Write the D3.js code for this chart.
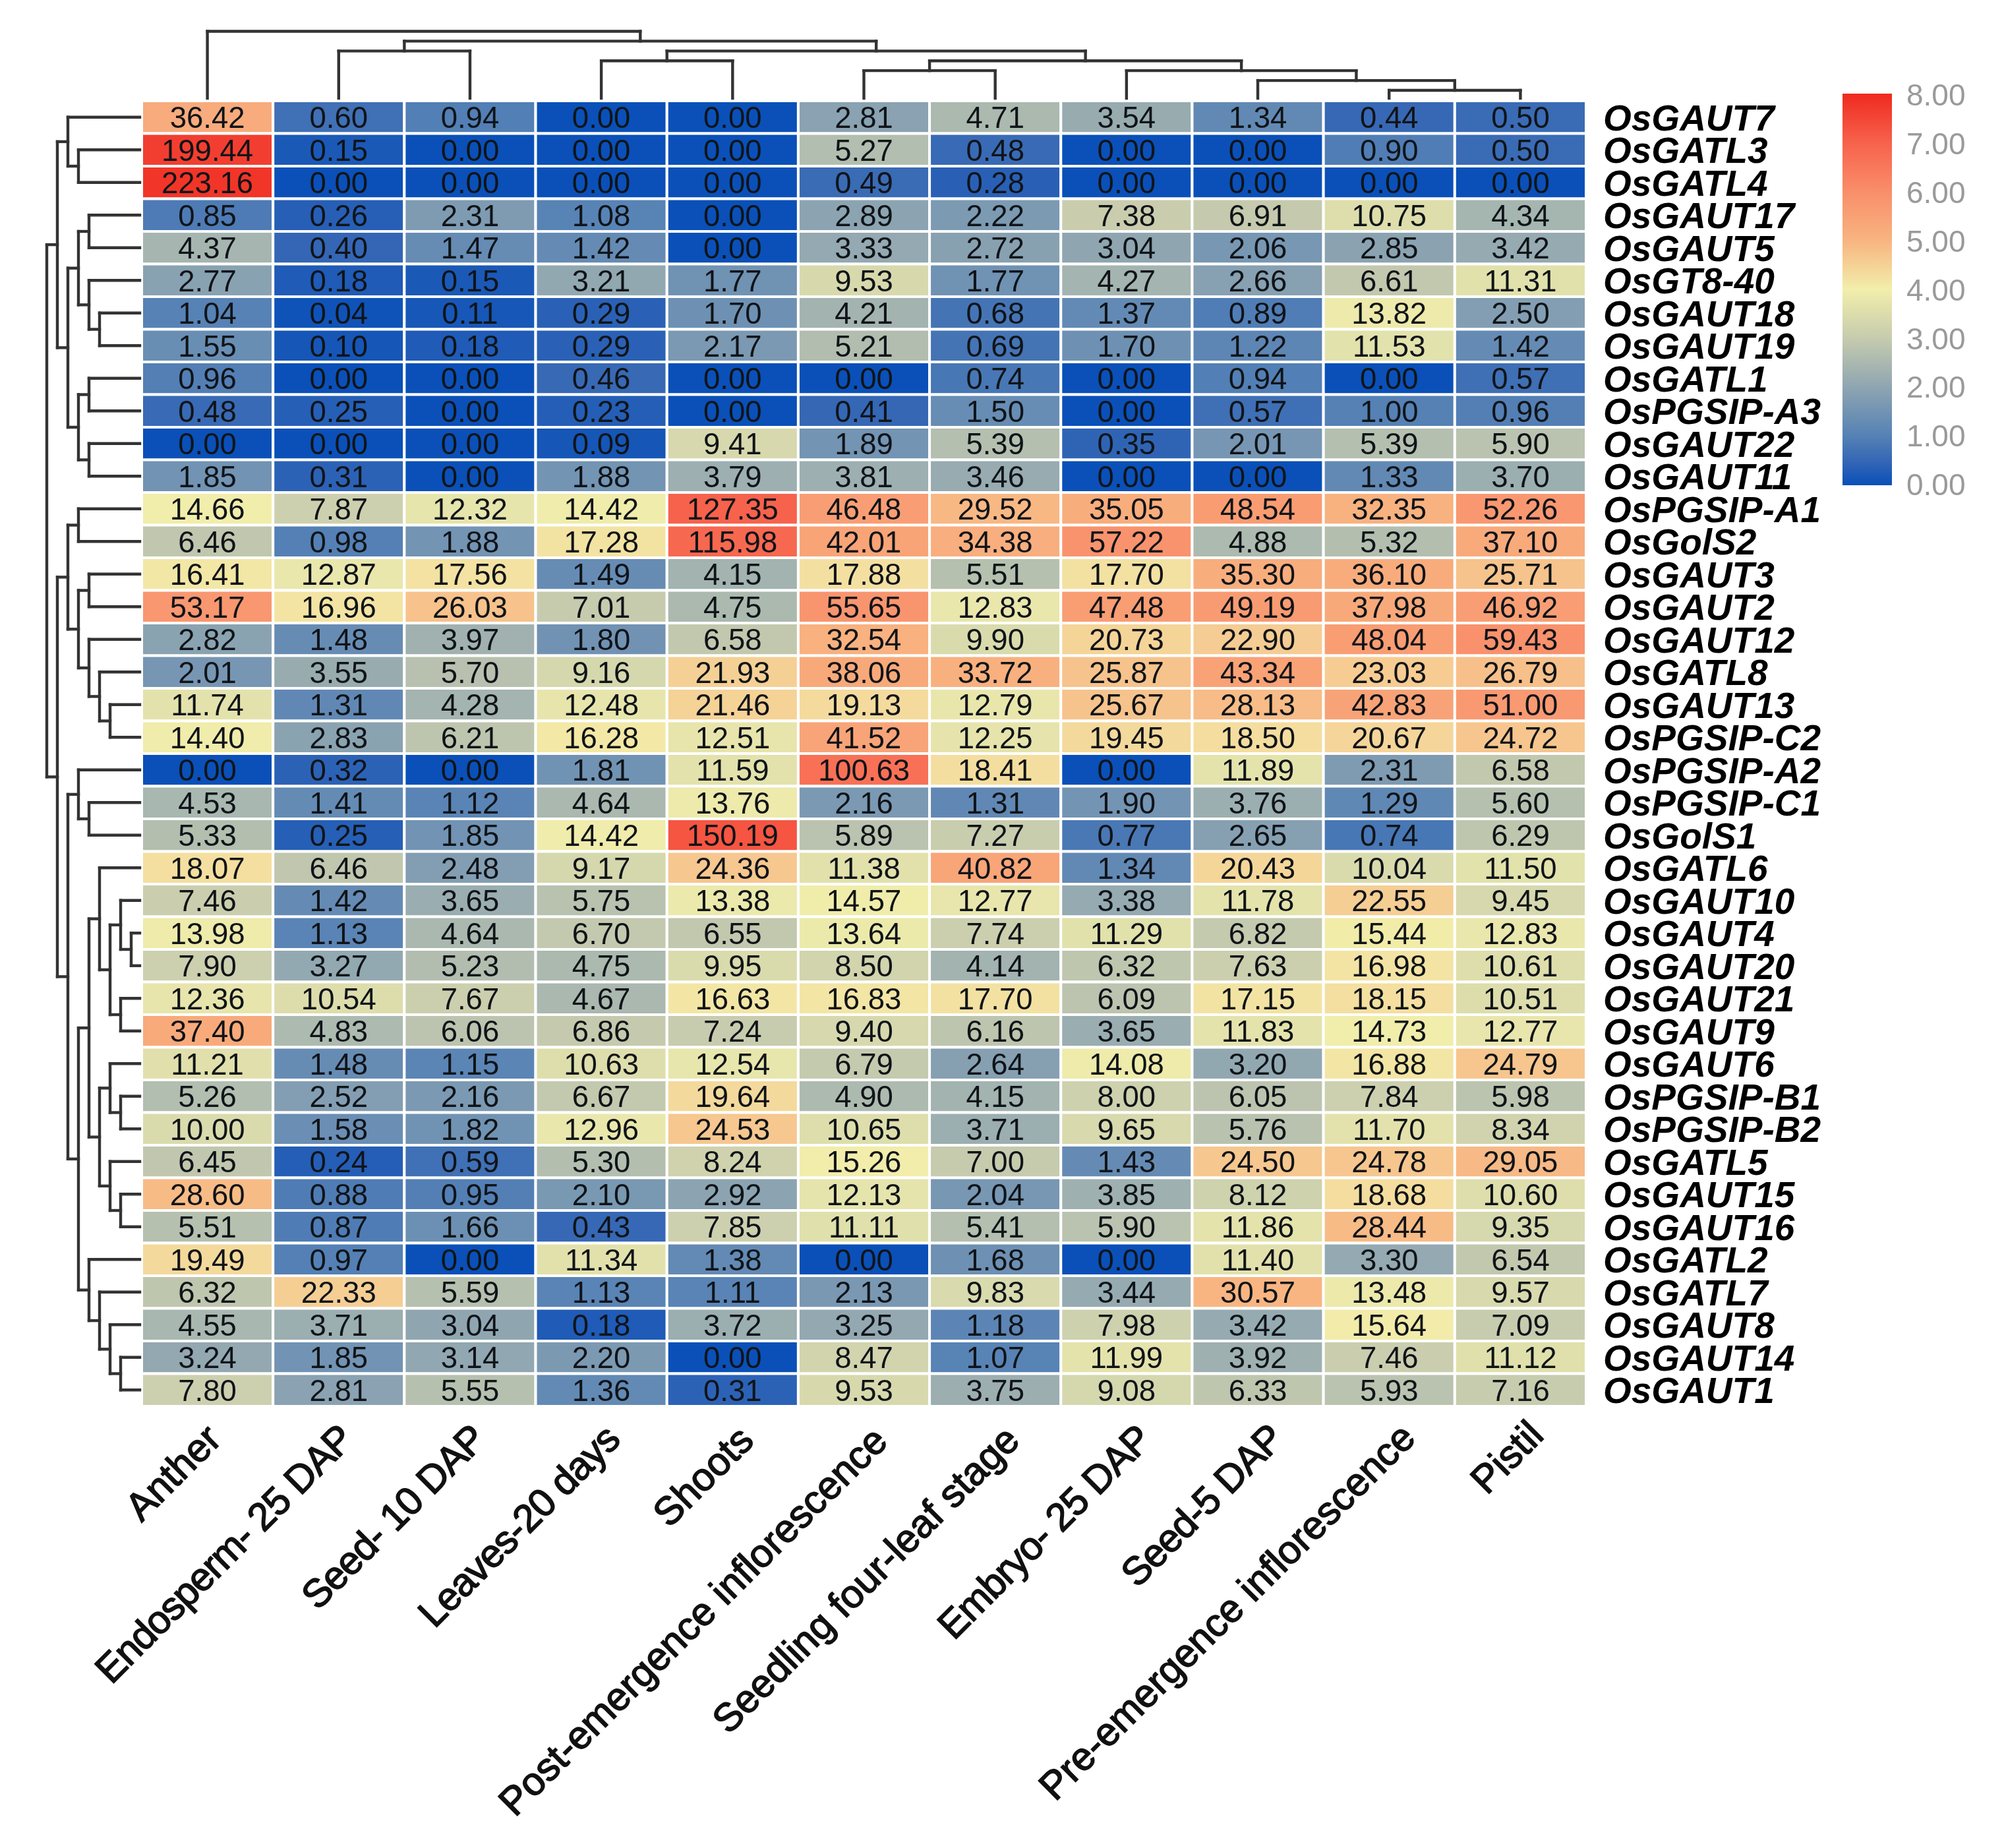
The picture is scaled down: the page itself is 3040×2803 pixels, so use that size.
<!DOCTYPE html>
<html>
<head>
<meta charset="utf-8">
<script src="https://cdnjs.cloudflare.com/ajax/libs/d3/7.8.5/d3.min.js"></script>
<style>
html,body{margin:0;padding:0;background:#fff}
svg{display:block;filter:blur(0.7px)}
text{font-family:"Liberation Sans",Arial,sans-serif}
</style>
</head>
<body>
<svg id="chart" width="3040" height="2803"></svg>
<script>
const tissues = ["Anther","Endosperm- 25 DAP","Seed- 10 DAP","Leaves-20 days","Shoots","Post-emergence inflorescence","Seedling four-leaf stage","Embryo- 25 DAP","Seed-5 DAP","Pre-emergence inflorescence","Pistil"];
const genes = ["OsGAUT7","OsGATL3","OsGATL4","OsGAUT17","OsGAUT5","OsGT8-40","OsGAUT18","OsGAUT19","OsGATL1","OsPGSIP-A3","OsGAUT22","OsGAUT11","OsPGSIP-A1","OsGolS2","OsGAUT3","OsGAUT2","OsGAUT12","OsGATL8","OsGAUT13","OsPGSIP-C2","OsPGSIP-A2","OsPGSIP-C1","OsGolS1","OsGATL6","OsGAUT10","OsGAUT4","OsGAUT20","OsGAUT21","OsGAUT9","OsGAUT6","OsPGSIP-B1","OsPGSIP-B2","OsGATL5","OsGAUT15","OsGAUT16","OsGATL2","OsGATL7","OsGAUT8","OsGAUT14","OsGAUT1"];
const expression = [
[36.42,0.60,0.94,0.00,0.00,2.81,4.71,3.54,1.34,0.44,0.50],
[199.44,0.15,0.00,0.00,0.00,5.27,0.48,0.00,0.00,0.90,0.50],
[223.16,0.00,0.00,0.00,0.00,0.49,0.28,0.00,0.00,0.00,0.00],
[0.85,0.26,2.31,1.08,0.00,2.89,2.22,7.38,6.91,10.75,4.34],
[4.37,0.40,1.47,1.42,0.00,3.33,2.72,3.04,2.06,2.85,3.42],
[2.77,0.18,0.15,3.21,1.77,9.53,1.77,4.27,2.66,6.61,11.31],
[1.04,0.04,0.11,0.29,1.70,4.21,0.68,1.37,0.89,13.82,2.50],
[1.55,0.10,0.18,0.29,2.17,5.21,0.69,1.70,1.22,11.53,1.42],
[0.96,0.00,0.00,0.46,0.00,0.00,0.74,0.00,0.94,0.00,0.57],
[0.48,0.25,0.00,0.23,0.00,0.41,1.50,0.00,0.57,1.00,0.96],
[0.00,0.00,0.00,0.09,9.41,1.89,5.39,0.35,2.01,5.39,5.90],
[1.85,0.31,0.00,1.88,3.79,3.81,3.46,0.00,0.00,1.33,3.70],
[14.66,7.87,12.32,14.42,127.35,46.48,29.52,35.05,48.54,32.35,52.26],
[6.46,0.98,1.88,17.28,115.98,42.01,34.38,57.22,4.88,5.32,37.10],
[16.41,12.87,17.56,1.49,4.15,17.88,5.51,17.70,35.30,36.10,25.71],
[53.17,16.96,26.03,7.01,4.75,55.65,12.83,47.48,49.19,37.98,46.92],
[2.82,1.48,3.97,1.80,6.58,32.54,9.90,20.73,22.90,48.04,59.43],
[2.01,3.55,5.70,9.16,21.93,38.06,33.72,25.87,43.34,23.03,26.79],
[11.74,1.31,4.28,12.48,21.46,19.13,12.79,25.67,28.13,42.83,51.00],
[14.40,2.83,6.21,16.28,12.51,41.52,12.25,19.45,18.50,20.67,24.72],
[0.00,0.32,0.00,1.81,11.59,100.63,18.41,0.00,11.89,2.31,6.58],
[4.53,1.41,1.12,4.64,13.76,2.16,1.31,1.90,3.76,1.29,5.60],
[5.33,0.25,1.85,14.42,150.19,5.89,7.27,0.77,2.65,0.74,6.29],
[18.07,6.46,2.48,9.17,24.36,11.38,40.82,1.34,20.43,10.04,11.50],
[7.46,1.42,3.65,5.75,13.38,14.57,12.77,3.38,11.78,22.55,9.45],
[13.98,1.13,4.64,6.70,6.55,13.64,7.74,11.29,6.82,15.44,12.83],
[7.90,3.27,5.23,4.75,9.95,8.50,4.14,6.32,7.63,16.98,10.61],
[12.36,10.54,7.67,4.67,16.63,16.83,17.70,6.09,17.15,18.15,10.51],
[37.40,4.83,6.06,6.86,7.24,9.40,6.16,3.65,11.83,14.73,12.77],
[11.21,1.48,1.15,10.63,12.54,6.79,2.64,14.08,3.20,16.88,24.79],
[5.26,2.52,2.16,6.67,19.64,4.90,4.15,8.00,6.05,7.84,5.98],
[10.00,1.58,1.82,12.96,24.53,10.65,3.71,9.65,5.76,11.70,8.34],
[6.45,0.24,0.59,5.30,8.24,15.26,7.00,1.43,24.50,24.78,29.05],
[28.60,0.88,0.95,2.10,2.92,12.13,2.04,3.85,8.12,18.68,10.60],
[5.51,0.87,1.66,0.43,7.85,11.11,5.41,5.90,11.86,28.44,9.35],
[19.49,0.97,0.00,11.34,1.38,0.00,1.68,0.00,11.40,3.30,6.54],
[6.32,22.33,5.59,1.13,1.11,2.13,9.83,3.44,30.57,13.48,9.57],
[4.55,3.71,3.04,0.18,3.72,3.25,1.18,7.98,3.42,15.64,7.09],
[3.24,1.85,3.14,2.20,0.00,8.47,1.07,11.99,3.92,7.46,11.12],
[7.80,2.81,5.55,1.36,0.31,9.53,3.75,9.08,6.33,5.93,7.16]
];
// cluster trees: nested pairs of row / column indices
const rowTree = [
  [[0,[1,2]],[[[3,4],[5,[6,7]]],[[8,9],[10,11]]]],
  [[[12,13],[[14,15],[16,[17,[18,19]]]]],
   [[20,[21,22]],[[[23,[[24,[25,26]],[27,28]]],[[29,[30,31]],[32,[33,34]]]],[35,[36,[37,[38,39]]]]]]]
];
const colTree = [0,[[1,2],[[3,4],[[5,6],[7,[8,[9,10]]]]]]];
const colorStops = [0,0.5,1,2,3,4,5,6,7,8];
const colorValues = ["#0a50b8","#3567b5","#5581b5","#8ea5b1","#c6cbae","#f2eeab","#f8b481","#f98e6a","#f7624c","#ef2a20"];
const legendTicks = [0,1,2,3,4,5,6,7,8];

const svg = d3.select("#chart");
const x = d3.scaleBand().domain(tissues).range([215,2406]);
const y = d3.scaleBand().domain(genes).range([153,2133]);
const color = d3.scaleLinear().domain(colorStops).range(colorValues).clamp(true);
const cellColor = v => color(Math.log2(v+1));

const cells = expression.flatMap((r,i)=>r.map((v,j)=>({gene:genes[i],tissue:tissues[j],v})));
svg.append("g").selectAll("rect").data(cells).join("rect")
  .attr("x",d=>x(d.tissue)).attr("y",d=>y(d.gene))
  .attr("width",x.bandwidth()).attr("height",y.bandwidth())
  .attr("fill",d=>cellColor(d.v)).attr("stroke","#fff").attr("stroke-width",4);
svg.append("g").selectAll("text").data(cells).join("text")
  .attr("x",d=>x(d.tissue)+x.bandwidth()/2)
  .attr("y",d=>y(d.gene)+y.bandwidth()/2)
  .attr("dy","0.36em").attr("text-anchor","middle")
  .attr("font-size",45.5).attr("fill","#101418")
  .text(d=>d.v.toFixed(2));

// row labels
const rowAxis = svg.append("g").attr("transform","translate(2406,0)")
  .call(d3.axisRight(y).tickSize(0).tickPadding(26));
rowAxis.select(".domain").remove();
rowAxis.selectAll("text").attr("font-family","'Liberation Sans'").attr("dy","0.36em")
  .attr("font-size",55).attr("font-weight","bold").attr("font-style","italic").attr("fill","#000");

// column labels: their anchors drift slightly from the column centres in the source
const labelDx = d3.scaleLinear().domain([0,2,5,9,10]).range([24,27,39,43,38]);
const labelDy = d3.scaleLinear().domain([0,2,5,9,10]).range([53,53,56,51,47]);
const colAxis = svg.append("g").attr("transform","translate(0,2133)")
  .call(d3.axisBottom(x).tickSize(0).tickPadding(0));
colAxis.select(".domain").remove();
colAxis.selectAll("text").attr("font-family","'Liberation Sans'")
  .attr("font-size",59.5).attr("fill","#111").attr("stroke","#111").attr("stroke-width",1.6)
  .attr("letter-spacing",d=>/\d/.test(d)?-1.3:0)
  .attr("text-anchor","end").attr("dy",0).attr("y",0)
  .attr("transform",(d,i)=>`translate(${labelDx(i)},${labelDy(i)}) rotate(-45)`);

// dendrograms
const lineColor = "#333";
function treeLinks(tree, leafPos, depthPos, leafEnd){
  const root = d3.hierarchy(tree, d=>Array.isArray(d)?d:null);
  root.eachAfter(n=>{ n.pos = n.children ? d3.mean(n.children,c=>c.pos) : leafPos(n.data); });
  const segs = [];
  root.each(n=>{
    if(!n.children) return;
    const d = depthPos(n.depth);
    segs.push([[d,n.children[0].pos],[d,n.children[1].pos]]);
    n.children.forEach(c=>{
      const e = c.children ? depthPos(c.depth) : leafEnd;
      segs.push([[d,c.pos],[e,c.pos]]);
    });
  });
  return segs;
}
const rowDepth = d3.scaleLinear().domain([0,8]).range([71,199]);
const colDepth = d3.scaleLinear().domain([0,6]).range([47.5,137]);
const line = d3.line();
svg.append("g").selectAll("path")
  .data(treeLinks(rowTree,i=>y(genes[i])+y.bandwidth()/2,rowDepth,212))
  .join("path").attr("d",line).attr("fill","none").attr("stroke",lineColor).attr("stroke-width",4.4).attr("stroke-linecap","square");
svg.append("g").selectAll("path")
  .data(treeLinks(colTree,i=>x(tissues[i])+x.bandwidth()/2,colDepth,149).map(s=>s.map(p=>[p[1],p[0]])))
  .join("path").attr("d",line).attr("fill","none").attr("stroke",lineColor).attr("stroke-width",4.4).attr("stroke-linecap","square");

// colour legend
const legendScale = d3.scaleLinear().domain([0,8]).range([736,142]);
const defs = svg.append("defs");
const grad = defs.append("linearGradient").attr("id","legendGrad").attr("x1",0).attr("x2",0).attr("y1",1).attr("y2",0);
grad.selectAll("stop").data(colorStops).join("stop")
  .attr("offset",d=>d/8).attr("stop-color",d=>color(d));
svg.append("rect").attr("x",2795).attr("y",legendScale(8))
  .attr("width",75).attr("height",legendScale(0)-legendScale(8)).attr("fill","url(#legendGrad)");
const legAxis = svg.append("g").attr("transform","translate(2870,0)")
  .call(d3.axisRight(d3.scaleLinear().domain([0,8]).range([736,145])).tickValues(legendTicks).tickFormat(d3.format(".2f")).tickSize(0).tickPadding(22));
legAxis.select(".domain").remove();
legAxis.selectAll("text").attr("font-family","'Liberation Sans'").attr("font-size",46).attr("fill","#9a9a9a");
</script>
</body>
</html>
